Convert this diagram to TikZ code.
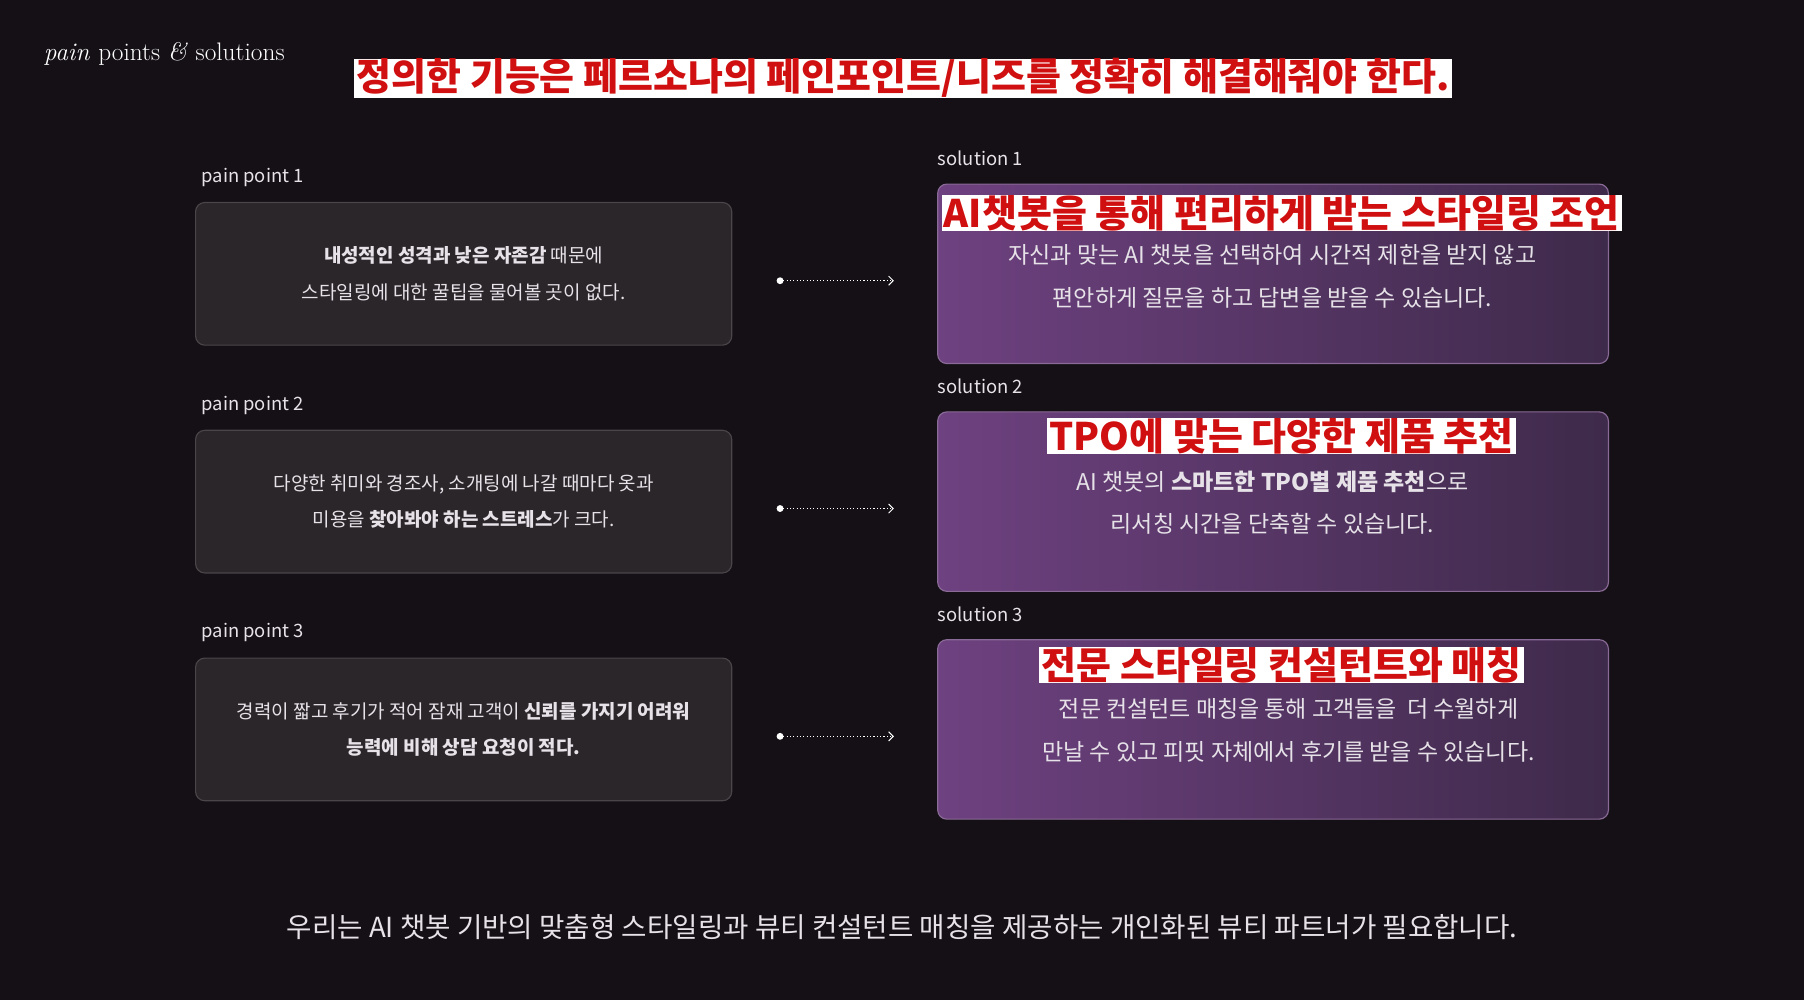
\documentclass[tikz,border=0pt]{standalone}
\usepackage{fontspec}
\usetikzlibrary{arrows.meta}
\setmainfont{Noto Sans CJK KR}
\newfontfamily\lmfont{Latin Modern Roman}
\definecolor{bg}{HTML}{141016}
\definecolor{pbox}{HTML}{2A2629}
\definecolor{pedge}{HTML}{4A4549}
\definecolor{sl}{HTML}{6E4180}
\definecolor{sr}{HTML}{3E2A4A}
\definecolor{sedge}{HTML}{8A6A96}
\definecolor{tred}{HTML}{D01010}
\definecolor{txt}{HTML}{E6E2E8}
\tikzset{
 painbox/.style={draw=pedge,fill=pbox,rounded corners=8pt,line width=1pt},
 solbox/.style={left color=sl,right color=sr,rounded corners=8pt},
 soledge/.style={draw=sedge,rounded corners=8pt,line width=1pt},
 lbl/.style={text=txt,anchor=west,font=\fontsize{16}{18}\selectfont,inner sep=0},
 body/.style={text=txt,align=center,font=\fontsize{16.5}{32}\selectfont},
 sbody/.style={text=txt,align=center,font=\fontsize{20}{37}\selectfont},
 redtitle/.style={fill=white,text=tred,inner xsep=2pt,inner ysep=0pt,font=\bfseries\fontsize{33}{34}\selectfont},
 arr/.style={draw=white,dotted,line width=0.9pt,-{Straight Barb[length=4pt]}},
}
\begin{document}
\begin{tikzpicture}[x=1pt,y=-1pt]
\fill[bg] (0,0) rectangle (1568,869);
\useasboundingbox (0,0) rectangle (1568,869);
\node[anchor=west,text=white,inner sep=0,font=\lmfont\fontsize{22}{24}\selectfont] (brand) at (38,47) {\itshape pain \upshape points \itshape\& \upshape solutions};
\node[redtitle] (title) at (785,68) {정의한 기능은 페르소나의 페인포인트/니즈를 정확히 해결해줘야 한다.};
% pain boxes
\foreach \i/\y in {1/176,2/374,3/572}{
 \node[lbl] (pl\i) at (175,\y-22) {pain point \i};
 \draw[painbox] (170,\y) rectangle (636,\y+124);
 \coordinate (ps\i) at (678,\y+68);
 \coordinate (pe\i) at (777,\y+68);
 \fill[white] (ps\i) circle (3pt);
 \draw[arr] (ps\i) -- (pe\i);
}
\node[body] (pt1) at (403,238) {{\bfseries 내성적인 성격과 낮은 자존감} 때문에\\스타일링에 대한 꿀팁을 물어볼 곳이 없다.};
\node[body] (pt2) at (403,436) {다양한 취미와 경조사, 소개팅에 나갈 때마다 옷과\\미용을 {\bfseries 찾아봐야 하는 스트레스}가 크다.};
\node[body] (pt3) at (403,634) {경력이 짧고 후기가 적어 잠재 고객이 {\bfseries 신뢰를 가지기 어려워}\\{\bfseries 능력에 비해 상담 요청이 적다.}};
% solution boxes
\foreach \i/\y in {1/160,2/358,3/556}{
 \node[lbl] (sl\i) at (815,\y-22) {solution \i};
 \shade[solbox] (815,\y) rectangle (1398,\y+156);
 \draw[soledge] (815,\y) rectangle (1398,\y+156);
}
\node[sbody] (st1) at (1106,240) {자신과 맞는 AI 챗봇을 선택하여 시간적 제한을 받지 않고\\편안하게 질문을 하고 답변을 받을 수 있습니다.};
\node[sbody] (st2) at (1106,437) {AI 챗봇의 {\bfseries 스마트한 TPO별 제품 추천}으로\\리서칭 시간을 단축할 수 있습니다.};
\node[sbody] (st3) at (1120,635) {전문 컨설턴트 매칭을 통해 고객들을 ~더 수월하게\\만날 수 있고 피핏 자체에서 후기를 받을 수 있습니다.};
\node[redtitle] (rt1) at (1114,185) {AI챗봇을 통해 편리하게 받는 스타일링 조언};
\node[redtitle] (rt2) at (1114,379) {TPO에 맞는 다양한 제품 추천};
\node[redtitle] (rt3) at (1114,578) {전문 스타일링 컨설턴트와 매칭};
\node[text=txt,font=\fontsize{24}{26}\selectfont] (bottom) at (784,806) {우리는 AI 챗봇 기반의 맞춤형 스타일링과 뷰티 컨설턴트 매칭을 제공하는 개인화된 뷰티 파트너가 필요합니다.};
\end{tikzpicture}
\end{document}
